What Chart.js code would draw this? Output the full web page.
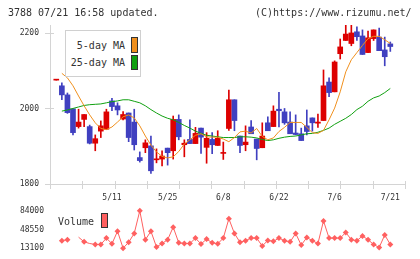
<!DOCTYPE html>
<html>
<head>
<meta charset="utf-8">
<script src="https://cdn.jsdelivr.net/npm/chart.js@4.4.0/dist/chart.umd.min.js"></script>
<style>
  body { margin: 0; background: #fff; }
  #wrap { position: relative; width: 420px; height: 259px; overflow: hidden; font-family: "DejaVu Sans Mono", monospace; color: #333; }
  .txt { position: absolute; font-size: 10px; line-height: 10px; white-space: pre; }
  canvas { position: absolute; left: 0; }
  .box { position: absolute; left: 65px; top: 30px; width: 76px; height: 47px; border: 1px solid #d0d0d0; background: #fff; box-sizing: border-box; }
  .sw { position: absolute; width: 7px; border: 1px solid #333; box-sizing: border-box; }
</style>
</head>
<body>
<div id="wrap">
  <canvas id="price" width="420" height="205" style="top:0"></canvas>
  <canvas id="volume" width="420" height="59" style="top:200px"></canvas>
  <div class="txt" style="left:8px;top:8px">3788 07/21 16:58 updated.</div>
  <div class="txt" style="left:255px;top:8px">(C)https://www.rizumu.net/</div>
  <div class="box"></div>
  <div class="txt" style="left:65px;width:60px;text-align:right;top:41px">5-day MA</div>
  <div class="txt" style="left:65px;width:60px;text-align:right;top:58px">25-day MA</div>
  <div class="sw" style="left:131px;top:37px;height:16px;background:#f0901e"></div>
  <div class="sw" style="left:131px;top:55px;height:15px;background:#10a010"></div>
  <div class="txt" style="left:58px;top:217px">Volume</div>
  <div class="sw" style="left:101px;top:213px;height:15px;background:#ff6060"></div>
</div>
<script>
// daily OHLC, 4/24 .. 7/21 (61 trading days)
const open = [2075,2060,2036,1999,1952,1971,1952,1908,1940,1945,
  2020,2007,1972,1988,1964,1870,1896,1901,1864,1866,
  1895,1888,1971,1904,1918,1907,1948,1897,1918,1902,
  1881,1947,2023,1927,1904,1951,1919,1896,1962,1952,
  1998,1991,1964,1935,1933,1954,1975,1961,1968,2070,
  2044,2145,2180,2172,2203,2192,2148,2185,2189,2155,2171];
const high = [2076,2068,2041,1999,1998,1984,1956,1930,1967,1998,
  2027,2015,1992,1988,1998,1885,1917,1927,1893,1888,
  1895,1980,1983,1917,1970,1950,1948,1936,1936,1941,
  1911,2049,2023,1927,1954,1968,1919,1962,1978,2007,
  2043,2000,1991,1983,1948,1996,1975,1985,2102,2081,
  2126,2184,2221,2221,2216,2208,2205,2208,2213,2189,2176];
const low = [2075,2023,1987,1930,1948,1952,1906,1888,1923,1945,
  1994,1983,1970,1912,1890,1858,1883,1828,1856,1848,
  1850,1866,1917,1872,1907,1907,1881,1855,1880,1902,
  1865,1942,1941,1883,1888,1933,1864,1896,1941,1952,
  1951,1958,1933,1930,1915,1930,1940,1950,1968,2031,
  2044,2131,2180,2166,2180,2143,2148,2180,2153,2113,2151];
const close = [2076,2036,1989,1936,1964,1984,1908,1920,1954,1991,
  2005,1996,1984,1923,1904,1862,1909,1835,1866,1874,
  1883,1971,1925,1908,1907,1934,1924,1921,1904,1921,
  1882,2023,1968,1902,1911,1933,1894,1927,1941,1993,
  1994,1962,1933,1931,1915,1939,1962,1964,2060,2042,
  2123,2163,2197,2200,2190,2143,2187,2208,2153,2137,2164];

// moving averages
const ma5 = [null,2093,2081,2060,2033,2007,1983,1962,1947,1944,
  1951,1964,1978,1983,1975,1954,1927,1903,1885,1873,
  1869,1872,1886,1906,1917,1929,1933,1925,1924,1924,
  1919,1912,1923,1938,1940,1935,1947,1926,1917,1922,
  1939,1950,1963,1963,1963,1950,1936,1934,1942,1970,
  2001,2044,2097,2129,2148,2167,2185,2191,2191,2182,2172];
const ma25 = [null,1993,1996,2000,2004,2008,2010,2011,2012,2015,
  2018,2020,2023,2023,2019,2015,2007,1997,1988,1980,
  1974,1970,1963,1955,1948,1940,1934,1929,1927,1925,
  1923,1923,1923,1925,1925,1924,1922,1918,1915,1917,
  1921,1924,1926,1927,1930,1933,1934,1937,1942,1948,
  1958,1966,1974,1984,1997,2006,2019,2028,2033,2042,2053];

const volume = [null,27400,29200,null,34000,25100,22000,20200,20200,32200,
  21500,45250,13100,24400,41100,84000,29200,45250,15400,22000,
  29200,53000,23300,22000,22000,32200,21000,30400,23300,21500,
  32200,69000,41100,24350,27400,32200,32200,17200,27900,26100,
  32200,27400,25100,41100,19000,33300,27400,22000,64900,32200,
  32200,32200,42900,29200,27400,36300,29200,20200,14500,38100,20200];

const tickDays = [10, 20, 30, 40, 50, 60];
const tickLabels = ['5/11', '5/25', '6/8', '6/22', '7/6', '7/21'];
const priceTicks = [1800, 2000, 2200];
const volumeTicks = [13100, 48550, 84000];

const FONT = "DejaVu Sans Mono";
const RED = '#dd0000', BLUE = '#4040c0';
const candleColors = open.map((o, i) => close[i] >= o ? RED : BLUE);

const xRange = { min: -1.13, max: 62.64 };

// axis lines and the small cross ticks
const axisLines = {
  id: 'axisLines',
  beforeDatasetsDraw(chart) {
    const { ctx, chartArea: a, scales } = chart;
    ctx.save();
    ctx.strokeStyle = '#d4d4d4';
    ctx.lineWidth = 1;
    ctx.beginPath();
    ctx.moveTo(a.left + 0.5, a.top);
    ctx.lineTo(a.left + 0.5, a.bottom + 4);
    ctx.moveTo(a.left, a.bottom + 0.5);
    ctx.lineTo(a.right + 1, a.bottom + 0.5);
    priceTicks.forEach(v => {
      const y = Math.round(scales.y.getPixelForValue(v)) + 0.5;
      ctx.moveTo(a.left - 5, y);
      ctx.lineTo(a.left + 4, y);
    });
    for (let k = 0; k <= 11; k++) {
      const x = Math.round(a.left + k * (a.right - a.left) / 11) + 0.5;
      ctx.moveTo(x, a.bottom - 3);
      ctx.lineTo(x, a.bottom + 5);
    }
    ctx.stroke();
    ctx.restore();
  }
};

new Chart(document.getElementById('price'), {
  type: 'bar',
  data: {
    datasets: [
      {
        type: 'line',
        label: '5-day MA',
        data: ma5.map((v, i) => ({ x: i, y: v })),
        borderColor: '#f0901e',
        borderWidth: 1,
        pointRadius: 0,
        order: 0,
      },
      {
        type: 'line',
        label: '25-day MA',
        data: ma25.map((v, i) => ({ x: i, y: v })),
        borderColor: '#10a010',
        borderWidth: 1,
        pointRadius: 0,
        order: 0,
      },
      {
        label: 'wick',
        data: high.map((h, i) => ({ x: i, y: [low[i], h] })),
        backgroundColor: candleColors,
        barThickness: 1,
        grouped: false,
        order: 2,
      },
      {
        label: 'body',
        data: open.map((o, i) => ({ x: i, y: [o, close[i]] })),
        backgroundColor: candleColors,
        barThickness: 5,
        minBarLength: 1,
        grouped: false,
        order: 1,
      },
    ],
  },
  options: {
    responsive: false,
    animation: false,
    devicePixelRatio: 1,
    layout: { padding: { top: 25, right: 15, bottom: 0, left: 0 } },
    plugins: { legend: { display: false }, tooltip: { enabled: false } },
    scales: {
      x: {
        type: 'linear',
        ...xRange,
        offset: false,
        grid: { display: false, drawTicks: false },
        border: { display: false },
        afterBuildTicks: (s) => { s.ticks = tickDays.map(v => ({ value: v })); },
        afterFit: (s) => { s.height = 21; },
        ticks: {
          autoSkip: false,
          maxRotation: 0,
          padding: 9,
          color: '#333',
          font: { family: FONT, size: 8 },
          callback: (v) => tickLabels[tickDays.indexOf(v)],
        },
      },
      y: {
        min: 1800,
        max: 2221,
        grid: { display: false, drawTicks: false },
        border: { display: false },
        afterBuildTicks: (s) => { s.ticks = priceTicks.map(v => ({ value: v })); },
        afterFit: (s) => { s.width = 50; },
        ticks: { padding: 11, color: '#333', font: { family: FONT, size: 8 }, callback: (v) => String(v) },
      },
    },
  },
  plugins: [axisLines],
});

new Chart(document.getElementById('volume'), {
  type: 'line',
  data: {
    datasets: [{
      label: 'Volume',
      data: volume.map((v, i) => ({ x: i, y: v })),
      borderColor: '#ff6060',
      borderWidth: 1,
      pointStyle: 'rectRot',
      pointRadius: volume.map((v, i) => (i === 4 || i === 6) ? 0 : 3),
      pointBackgroundColor: '#ff6060',
      pointBorderWidth: 0,
      clip: false,
    }],
  },
  options: {
    responsive: false,
    animation: false,
    devicePixelRatio: 1,
    layout: { padding: { top: 9.3, right: 15, bottom: 10, left: 0 } },
    plugins: { legend: { display: false }, tooltip: { enabled: false } },
    scales: {
      x: { type: 'linear', ...xRange, display: false },
      y: {
        min: 13100,
        max: 84000,
        grid: { display: false, drawTicks: false },
        border: { display: false },
        afterBuildTicks: (s) => { s.ticks = volumeTicks.map(v => ({ value: v })); },
        afterFit: (s) => { s.width = 50; },
        ticks: { padding: 6, color: '#333', font: { family: FONT, size: 8 }, callback: (v) => String(v) },
      },
    },
  },
});
</script>
</body>
</html>
